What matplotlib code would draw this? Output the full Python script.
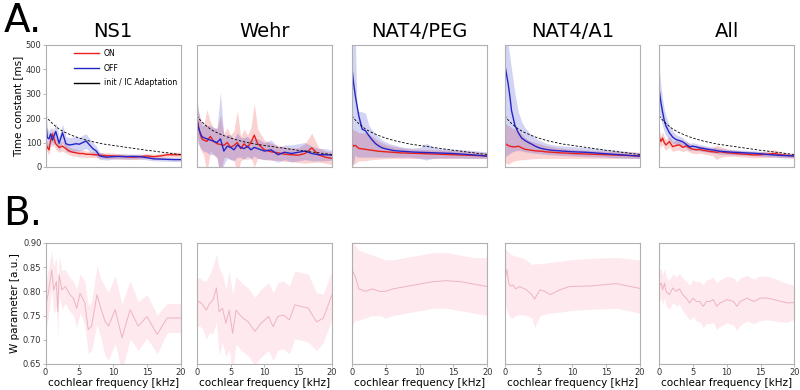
import numpy as np
import matplotlib
matplotlib.use('Agg')
from matplotlib import pyplot as plt

# frequency grid of the time-constant panels [kHz]
freq = [0, 0.25, 0.5, 0.75, 1, 1.5, 2, 2.5, 3, 3.5, 4, 4.5, 5, 5.5, 6, 6.5, 7, 7.5, 8, 8.5, 9,
        10, 11, 12, 13, 14, 15, 16, 17, 18, 19, 20]

# init / IC adaptation reference curve [ms]
init_ic = [210, 200, 192, 185, 178, 166, 155, 147, 140, 134, 128, 123, 118, 114, 110, 106, 103, 100, 97, 94, 92,
           88, 84, 80, 76, 72, 68, 65, 61, 58, 54, 51]

# NS1
ns1_on = [100, 80, 70, 110, 135, 95, 80, 85, 75, 65, 60, 58, 55, 55, 52, 52, 50, 50, 48, 47, 46,
          45, 43, 42, 40, 42, 45, 42, 45, 50, 50, 50]
ns1_on_err = [25, 20, 20, 25, 30, 25, 20, 20, 18, 16, 15, 15, 14, 14, 13, 13, 12, 12, 12, 12, 12,
              12, 11, 11, 10, 10, 10, 10, 10, 10, 10, 10]
ns1_off = [195, 120, 115, 135, 110, 145, 97, 140, 95, 90, 92, 95, 93, 100, 106, 90, 75, 65, 45, 42, 40,
           42, 43, 42, 43, 42, 38, 33, 32, 31, 30, 30]
ns1_off_err = [70, 40, 30, 30, 30, 35, 30, 35, 30, 30, 30, 30, 28, 30, 30, 25, 25, 20, 15, 12, 12,
               10, 10, 10, 10, 10, 9, 8, 8, 8, 8, 8]

# Wehr
wehr_on = [205, 165, 135, 115, 110, 105, 125, 105, 95, 92, 88, 100, 80, 88, 100, 75, 95, 80, 100, 130, 95,
           70, 62, 58, 52, 50, 48, 55, 78, 50, 40, 35]
wehr_on_err = [70, 60, 60, 55, 60, 130, 60, 55, 60, 120, 50, 60, 50, 60, 130, 50, 60, 50, 60, 130, 60,
               40, 35, 30, 30, 28, 30, 40, 60, 30, 25, 25]
wehr_off = [200, 160, 140, 125, 120, 115, 110, 105, 100, 115, 65, 85, 80, 70, 90, 80, 75, 85, 70, 80, 75,
            65, 70, 50, 60, 55, 60, 65, 55, 50, 50, 48]
wehr_off_err = [90, 70, 60, 55, 55, 55, 60, 55, 60, 190, 55, 50, 50, 45, 50, 40, 45, 40, 40, 35, 40,
                35, 40, 30, 30, 35, 35, 35, 30, 25, 25, 20]

# NAT4/PEG
peg_on = [95, 85, 88, 82, 76, 74, 72, 70, 68, 66, 64, 63, 62, 61, 60, 59, 58, 57, 57, 56, 56,
          55, 54, 53, 52, 51, 50, 49, 48, 47, 46, 45]
peg_on_lo = [5, 10, 15, 20, 25, 25, 25, 28, 30, 31, 32, 33, 34, 35, 35, 35, 35, 35, 35, 35, 35,
             35, 35, 35, 35, 35, 35, 35, 35, 35, 35, 35]
peg_on_hi = [160, 150, 150, 145, 140, 140, 140, 135, 125, 115, 105, 98, 92, 88, 85, 82, 80, 78, 76, 75, 74,
             72, 72, 70, 70, 68, 68, 66, 65, 62, 60, 58]
peg_off = [405, 340, 290, 250, 210, 155, 148, 128, 110, 95, 85, 78, 74, 71, 68, 66, 65, 64, 63, 62, 61,
           60, 59, 58, 57, 56, 55, 53, 51, 49, 47, 44]
peg_off_lo = [0, 20, 50, 40, 40, 40, 40, 40, 40, 40, 40, 40, 40, 40, 40, 40, 40, 40, 40, 40, 38,
              35, 28, 35, 36, 36, 36, 36, 35, 35, 35, 35]
peg_off_hi = [520, 520, 520, 230, 228, 225, 220, 170, 150, 135, 120, 110, 102, 96, 92, 88, 84, 81, 79, 78, 77,
              80, 97, 82, 76, 75, 73, 71, 69, 67, 64, 62]

# NAT4/A1
a1_on = [97, 92, 88, 85, 83, 82, 85, 78, 72, 70, 68, 66, 65, 64, 62, 61, 60, 59, 58, 57, 57,
         55, 54, 53, 52, 51, 50, 49, 48, 47, 46, 45]
a1_on_lo = [20, 15, 10, 15, 20, 25, 28, 30, 30, 32, 33, 34, 35, 35, 35, 35, 35, 35, 35, 35, 35,
            35, 35, 35, 35, 35, 35, 35, 35, 35, 35, 35]
a1_on_hi = [180, 175, 170, 165, 160, 155, 150, 135, 120, 110, 105, 100, 96, 92, 88, 85, 83, 80, 78, 76, 75,
            72, 70, 68, 67, 66, 65, 64, 63, 62, 61, 60]
a1_off = [420, 380, 340, 290, 230, 170, 140, 118, 108, 100, 93, 85, 79, 75, 72, 70, 68, 67, 66, 65, 64,
          62, 61, 60, 58, 56, 54, 52, 50, 48, 46, 44]
a1_off_lo = [40, 45, 50, 55, 60, 65, 68, 65, 62, 60, 58, 56, 55, 53, 52, 50, 50, 49, 48, 47, 47,
             45, 44, 43, 42, 41, 40, 38, 37, 36, 35, 34]
a1_off_hi = [520, 520, 500, 450, 400, 300, 225, 185, 160, 145, 132, 120, 110, 104, 98, 94, 91, 89, 87, 86, 85,
             83, 81, 79, 77, 75, 72, 70, 67, 64, 61, 58]

# All
all_on = [124, 104, 118, 100, 90, 104, 83, 88, 90, 80, 86, 78, 72, 70, 72, 68, 66, 63, 62, 60, 62,
          58, 56, 53, 52, 49, 50, 52, 55, 50, 47, 45]
all_on_err = [30, 25, 25, 25, 22, 22, 20, 20, 20, 18, 18, 18, 16, 16, 15, 15, 15, 15, 18, 30, 22,
              15, 12, 12, 12, 12, 12, 14, 15, 12, 10, 10]
all_off = [316, 265, 225, 190, 168, 140, 122, 112, 108, 103, 92, 82, 85, 82, 78, 76, 73, 71, 69, 67, 64,
           62, 60, 59, 57, 56, 54, 51, 49, 47, 46, 45]
all_off_err = [90, 70, 55, 45, 40, 30, 25, 20, 18, 16, 15, 15, 14, 14, 13, 13, 12, 12, 12, 12, 12,
               11, 11, 10, 10, 10, 10, 9, 9, 8, 8, 8]

# W parameter panels
ns1_wx = [0, 0.4, 0.9, 1.2, 1.6, 1.8, 2.0, 2.4, 2.9, 3.6, 4.1, 4.6, 5.1, 5.8, 6.3, 6.8, 7.6, 8.1, 8.8, 9.3,
          10.3, 11.3, 12.5, 13.7, 15.0, 16.5, 18.0, 20.0]
ns1_w = [0.768, 0.796, 0.844, 0.803, 0.820, 0.758, 0.834, 0.803, 0.810, 0.793, 0.786, 0.765, 0.796, 0.776,
         0.721, 0.728, 0.793, 0.768, 0.738, 0.728, 0.762, 0.704, 0.762, 0.728, 0.748, 0.711, 0.745, 0.745]
ns1_w_err = [0.05, 0.05, 0.04, 0.05, 0.05, 0.05, 0.04, 0.04, 0.035, 0.035, 0.035, 0.04, 0.04, 0.045,
             0.05, 0.05, 0.06, 0.06, 0.07, 0.07, 0.07, 0.07, 0.06, 0.05, 0.045, 0.04, 0.03, 0.03]

wehr_wx = [0, 0.4, 0.9, 1.4, 1.9, 2.4, 2.9, 3.3, 3.8, 4.3, 4.8, 5.3, 5.8, 6.4, 6.9, 7.6, 8.6, 9.3,
           10.6, 11.3, 12.0, 12.8, 13.7, 14.5, 16.5, 17.7, 18.7, 20.0]
wehr_w = [0.775, 0.779, 0.772, 0.761, 0.775, 0.782, 0.807, 0.758, 0.765, 0.734, 0.761, 0.713, 0.761, 0.751,
          0.744, 0.737, 0.717, 0.731, 0.748, 0.727, 0.748, 0.751, 0.741, 0.772, 0.765, 0.737, 0.744, 0.793]
wehr_w_err = [0.05, 0.05, 0.05, 0.06, 0.06, 0.07, 0.07, 0.09, 0.07, 0.07, 0.08, 0.08, 0.07, 0.07,
              0.07, 0.07, 0.07, 0.07, 0.07, 0.07, 0.07, 0.07, 0.07, 0.07, 0.07, 0.06, 0.05, 0.05]

peg_wx = [0, 0.5, 1, 2, 3, 4, 5, 6, 8, 10, 12, 14, 16, 18, 20]
peg_w = [0.845, 0.83, 0.805, 0.80, 0.805, 0.80, 0.80, 0.805, 0.81, 0.815, 0.82, 0.822, 0.82, 0.815, 0.81]
peg_w_lo = [0.73, 0.74, 0.74, 0.745, 0.75, 0.75, 0.745, 0.75, 0.755, 0.76, 0.765, 0.765, 0.76, 0.755, 0.75]
peg_w_hi = [0.90, 0.895, 0.885, 0.88, 0.875, 0.87, 0.865, 0.865, 0.87, 0.875, 0.88, 0.88, 0.875, 0.87, 0.87]

a1_wx = [0, 0.3, 0.6, 0.9, 1.2, 1.6, 2.2, 3.2, 4.0, 4.4, 5.2, 5.9, 6.7, 8.1, 9.6, 12.6, 16.5, 20]
a1_w = [0.82, 0.845, 0.815, 0.811, 0.813, 0.805, 0.810, 0.803, 0.793, 0.784, 0.803, 0.800, 0.793, 0.803,
        0.810, 0.811, 0.816, 0.806]
a1_w_lo = [0.78, 0.76, 0.75, 0.745, 0.745, 0.75, 0.752, 0.75, 0.745, 0.725, 0.75, 0.752, 0.755, 0.757,
           0.76, 0.763, 0.765, 0.755]
a1_w_hi = [0.889, 0.885, 0.88, 0.876, 0.875, 0.872, 0.871, 0.865, 0.855, 0.857, 0.857, 0.858, 0.86, 0.862,
           0.865, 0.868, 0.87, 0.865]

all_wx = [0, 0.3, 0.5, 0.8, 1, 1.5, 2, 2.5, 3, 3.5, 4, 4.5, 5, 5.5, 6, 6.5, 7, 7.5, 8, 8.5, 9, 9.5, 10,
          11, 11.5, 12, 13, 14, 15, 16, 17, 18, 19, 20]
all_w = [0.810, 0.817, 0.803, 0.817, 0.800, 0.793, 0.807, 0.800, 0.805, 0.793, 0.786, 0.776, 0.786, 0.779,
         0.779, 0.769, 0.779, 0.779, 0.783, 0.769, 0.776, 0.779, 0.783, 0.779, 0.769, 0.779, 0.786, 0.779,
         0.786, 0.786, 0.783, 0.779, 0.776, 0.777]
all_w_err = [0.035, 0.03, 0.03, 0.03, 0.03, 0.03, 0.03, 0.03, 0.032, 0.034, 0.035, 0.036, 0.038, 0.04,
             0.042, 0.044, 0.045, 0.046, 0.047, 0.048, 0.048, 0.048, 0.048, 0.049, 0.05, 0.049, 0.047,
             0.046, 0.046, 0.045, 0.044, 0.042, 0.04, 0.035]

titles = ['NS1', 'Wehr', 'NAT4/PEG', 'NAT4/A1', 'All']

RED = '#e8201c'
BLUE = '#2424c8'
PINK = '#eeb4c1'
PINK_FILL = '#fde9ee'
SPINE = '#b0b0b0'

f = np.array(freq)
on_data = [
    (np.array(ns1_on), np.array(ns1_on) - ns1_on_err, np.array(ns1_on) + ns1_on_err),
    (np.array(wehr_on), np.array(wehr_on) - wehr_on_err, np.array(wehr_on) + wehr_on_err),
    (np.array(peg_on), np.array(peg_on_lo), np.array(peg_on_hi)),
    (np.array(a1_on), np.array(a1_on_lo), np.array(a1_on_hi)),
    (np.array(all_on), np.array(all_on) - all_on_err, np.array(all_on) + all_on_err),
]
off_data = [
    (np.array(ns1_off), np.array(ns1_off) - ns1_off_err, np.array(ns1_off) + ns1_off_err),
    (np.array(wehr_off), np.array(wehr_off) - wehr_off_err, np.array(wehr_off) + wehr_off_err),
    (np.array(peg_off), np.array(peg_off_lo), np.array(peg_off_hi)),
    (np.array(a1_off), np.array(a1_off_lo), np.array(a1_off_hi)),
    (np.array(all_off), np.array(all_off) - all_off_err, np.array(all_off) + all_off_err),
]
w_data = [
    (ns1_wx, np.array(ns1_w), np.array(ns1_w) - ns1_w_err, np.array(ns1_w) + ns1_w_err),
    (wehr_wx, np.array(wehr_w), np.array(wehr_w) - wehr_w_err, np.array(wehr_w) + wehr_w_err),
    (peg_wx, np.array(peg_w), np.array(peg_w_lo), np.array(peg_w_hi)),
    (a1_wx, np.array(a1_w), np.array(a1_w_lo), np.array(a1_w_hi)),
    (all_wx, np.array(all_w), np.array(all_w) - all_w_err, np.array(all_w) + all_w_err),
]

fig = plt.figure(figsize=(8, 3.9), dpi=100)
lefts = [0.057, 0.246, 0.44, 0.631, 0.824]
w_ax = 0.169


def style(ax):
    for s in ax.spines.values():
        s.set_color(SPINE)
        s.set_linewidth(0.8)
    ax.tick_params(length=2, width=0.6, color=SPINE, labelsize=6, labelcolor='#333333', pad=1)


for i in range(5):
    # top: time constants
    ax = fig.add_axes([lefts[i], 0.572, w_ax, 0.313])
    m, lo, hi = on_data[i]
    ax.fill_between(f, lo, hi, color=RED, alpha=0.2, lw=0)
    ax.plot(f, m, color=RED, lw=1.0, label='ON')
    m, lo, hi = off_data[i]
    ax.fill_between(f, lo, hi, color=BLUE, alpha=0.2, lw=0)
    ax.plot(f, m, color=BLUE, lw=1.0, label='OFF')
    ax.plot(f, init_ic, color='black', lw=0.6, ls=(0, (3, 2)), label='init / IC Adaptation')
    ax.set_xlim(0, 20)
    ax.set_ylim(0, 500)
    ax.set_xticks([])
    ax.set_yticks([0, 100, 200, 300, 400, 500])
    ax.set_title(titles[i], fontsize=14, pad=6)
    style(ax)
    if i == 0:
        ax.set_ylabel('Time constant [ms]', fontsize=7.5, labelpad=2)
        leg = ax.legend(loc='upper right', frameon=False, fontsize=5.6, handlelength=3.2,
                        handletextpad=0.6, borderaxespad=0.1, labelspacing=0.75)
        leg.get_lines()[2].set_linestyle('-')
        leg.get_lines()[2].set_linewidth(1.0)
    else:
        ax.set_yticklabels([])
        ax.tick_params(axis='y', length=0)

    # bottom: W parameter
    bx = fig.add_axes([lefts[i], 0.067, w_ax, 0.31])
    x, m, lo, hi = w_data[i]
    bx.fill_between(x, lo, hi, color=PINK_FILL, lw=0)
    bx.plot(x, m, color=PINK, lw=0.7)
    bx.set_xlim(0, 20)
    bx.set_ylim(0.65, 0.90)
    bx.set_xticks([0, 5, 10, 15, 20])
    bx.set_yticks([0.65, 0.70, 0.75, 0.80, 0.85, 0.90])
    bx.set_xlabel('cochlear frequency [kHz]', fontsize=7.5, labelpad=1)
    style(bx)
    if i == 0:
        bx.set_ylabel('W parameter [a.u.]', fontsize=7.5, labelpad=2)
    else:
        bx.set_yticklabels([])
        bx.tick_params(axis='y', length=0)

fig.text(0.004, 0.918, 'A.', fontsize=28)
fig.text(0.004, 0.423, 'B.', fontsize=28)

fig.savefig('out.png', dpi=100)
